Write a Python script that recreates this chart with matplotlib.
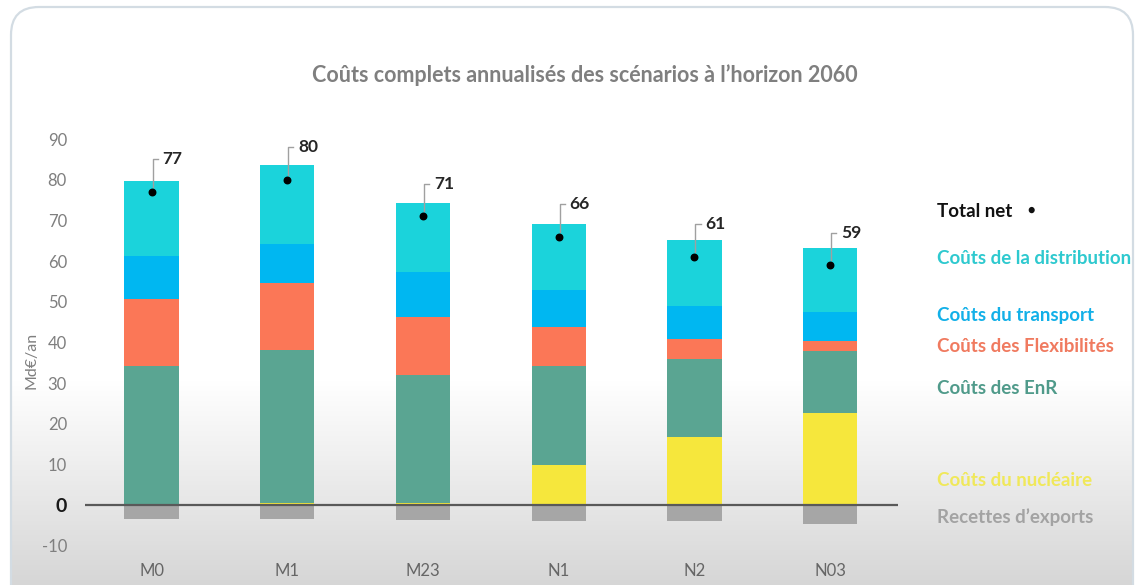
import numpy as np
import matplotlib
matplotlib.use("Agg")
import matplotlib.pyplot as plt
from matplotlib.patches import FancyBboxPatch
from matplotlib.colors import LinearSegmentedColormap

plt.rcParams["font.family"] = ["Lato", "DejaVu Sans"]

# values (Md€/an)
scenarios = ["M0", "M1", "M23", "N1", "N2", "N03"]
nucleaire = [0.0, 0.5, 0.5, 9.8, 16.9, 22.7]
enr = [34.2, 37.6, 31.6, 24.4, 19.1, 15.1]
flexibilites = [16.6, 16.4, 14.2, 9.6, 4.8, 2.5]
transport = [10.5, 9.8, 10.9, 9.0, 8.2, 7.3]
distribution = [18.4, 19.2, 17.1, 16.4, 16.1, 15.7]
exports = [-3.4, -3.4, -3.7, -3.9, -3.9, -4.7]
total_net = [77, 80, 71, 66, 61, 59]
yticks = [-10, 0, 10, 20, 30, 40, 50, 60, 70, 80, 90]

series = [
    ("Coûts du nucléaire", nucleaire, "#f6e73c", "#f0e85a"),
    ("Coûts des EnR", enr, "#5aa592", "#4f9a8a"),
    ("Coûts des Flexibilités", flexibilites, "#fb7757", "#f07a5f"),
    ("Coûts du transport", transport, "#00b7f1", "#12b0e8"),
    ("Coûts de la distribution", distribution, "#1bd3db", "#2ec9cf"),
]

W, H = 1142, 585
fig = plt.figure(figsize=(W / 100, H / 100), dpi=100)
fig.patch.set_facecolor("white")

# card background with soft grey gradient towards the bottom
bg = fig.add_axes([0, 0, 1, 1])
bg.set_xlim(0, W)
bg.set_ylim(H, 0)
bg.axis("off")
grad = np.ones((H, 1))
ys = np.arange(H)
grad[:, 0] = np.clip((ys - 380) / (H - 380), 0, 1)
cmap = LinearSegmentedColormap.from_list("bgfade", ["#ffffff", "#d6d6d6"])
card = FancyBboxPatch((11, 7), 1122, 640, boxstyle="round,pad=0,rounding_size=28",
                      facecolor="none", edgecolor="#d3dce3", lw=1.6, zorder=3)
bg.add_patch(card)
img = bg.imshow(grad, cmap=cmap, aspect="auto", extent=(0, W, H, 0), vmin=0, vmax=1, zorder=1)
img.set_clip_path(card)

ax = fig.add_axes([85 / W, 1 - 546 / H, (898 - 85) / W, (546 - 139) / H])
ax.set_facecolor("none")
x = np.arange(len(scenarios))
width = 0.4

bottom = np.zeros(len(scenarios))
for name, vals, color, _ in series:
    vals = np.array(vals)
    ax.bar(x, vals, width, bottom=bottom, color=color, zorder=2)
    bottom += vals
ax.bar(x, exports, width, color="#a6a6a6", zorder=2)

ax.axhline(0, color="#595959", lw=1.6, zorder=3)

# total net points with leader lines
ax.scatter(x, total_net, s=22, color="black", zorder=5)
for i, tot in enumerate(total_net):
    ytop = tot + 8
    ax.plot([i + 0.008, i + 0.008, i + 0.045], [tot + 1.2, ytop, ytop],
            color="#a0a0a0", lw=1, zorder=4)
    ax.text(i + 0.08, ytop, str(tot), fontsize=12.5, fontweight="bold",
            color="#262626", va="center", ha="left", zorder=6)

ax.set_xlim(-0.49, 5.5)
ax.set_ylim(-10, 90)
ax.set_yticks(yticks)
ax.set_yticklabels([str(v) for v in yticks])
for lbl, v in zip(ax.get_yticklabels(), yticks):
    if v == 0:
        lbl.set_fontweight("bold")
        lbl.set_fontsize(14)
        lbl.set_color("#1a1a1a")
    else:
        lbl.set_fontsize(12)
        lbl.set_color("#7f7f7f")
ax.set_xticks(x)
ax.set_xticklabels(scenarios, fontsize=12, color="#666666")
ax.tick_params(axis="both", length=0)
ax.tick_params(axis="y", pad=13)
ax.tick_params(axis="x", pad=12)
for s in ax.spines.values():
    s.set_visible(False)

fig.text(31 / W, 1 - 360 / H, "Md€/an", rotation=90, fontsize=11.5, color="#7f7f7f",
         ha="center", va="center")

fig.text(585 / W, 1 - 75 / H, "Coûts complets annualisés des scénarios à l’horizon 2060",
         fontsize=15.5, fontweight="bold", color="#7f7f7f", ha="center", va="center")

# side legend as coloured labels
legend_y = {"Coûts de la distribution": 258, "Coûts du transport": 316,
            "Coûts des Flexibilités": 346, "Coûts des EnR": 389,
            "Coûts du nucléaire": 481}
fig.text(937 / W, 1 - 211 / H, "Total net", fontsize=13.5, fontweight="bold",
         color="#111111", ha="left", va="center")
fig.text(1031 / W, 1 - 210 / H, "●", fontsize=9, color="#111111", ha="center", va="center")
for name, _, _, tcolor in series:
    fig.text(937 / W, 1 - legend_y[name] / H, name, fontsize=13.5, fontweight="bold",
             color=tcolor, ha="left", va="center")
fig.text(937 / W, 1 - 517 / H, "Recettes d’exports", fontsize=13.5, fontweight="bold",
         color="#a3a3a3", ha="left", va="center")

fig.savefig("out.png", dpi=100)
